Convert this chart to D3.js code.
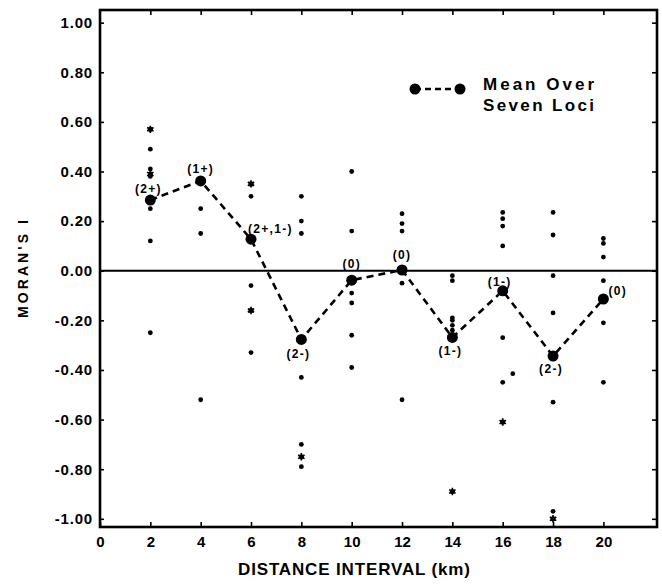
<!DOCTYPE html>
<html>
<head>
<meta charset="utf-8">
<script src="https://cdn.jsdelivr.net/npm/d3@7"></script>
<style>
  html, body { margin: 0; padding: 0; background: #fff; }
  svg { display: block; }
  text { font-family: "Liberation Sans", Arial, Helvetica, sans-serif; fill: #000; }
</style>
</head>
<body>
<svg id="chart" width="662" height="584"></svg>
<script>
// ---------------- data ----------------
const distances = [2, 4, 6, 8, 10, 12, 14, 16, 18, 20];
const meanI = [0.285, 0.362, 0.127, -0.277, -0.038, 0.003, -0.269, -0.081, -0.344, -0.114];
const meanLabels = ["(2+)", "(1+)", "(2+,1-)", "(2-)", "(0)", "(0)", "(1-)", "(1-)", "(2-)", "(0)"];
// individual loci values per distance interval
const lociValues = [
  [0.49, 0.41, 0.38, 0.25, 0.12, -0.25],
  [0.25, 0.15, -0.52],
  [0.30, -0.06, -0.33],
  [0.30, 0.20, 0.15, -0.43, -0.70, -0.79],
  [0.40, 0.16, -0.09, -0.13, -0.26, -0.39],
  [0.23, 0.19, 0.16, -0.05, -0.52],
  [-0.02, -0.04, -0.19, -0.20, -0.22, -0.24],
  [0.235, 0.21, 0.18, 0.10, -0.27, -0.45],
  [0.235, 0.144, -0.02, -0.17, -0.53, -0.97],
  [0.13, 0.11, 0.055, -0.04, -0.21, -0.45]
];
// coincident values (drawn as asterisk blobs)
const starDistances = [2, 2, 6, 6, 8, 14, 16, 18];
const starValues = [0.57, 0.39, 0.35, -0.16, -0.75, -0.89, -0.61, -1.00];
// point displaced sideways for legibility
const shiftedDistances = [16.4];
const shiftedValues = [-0.415];
const xTicks = [0, 2, 4, 6, 8, 10, 12, 14, 16, 18, 20];
const yTicks = [-1.0, -0.8, -0.6, -0.4, -0.2, 0.0, 0.2, 0.4, 0.6, 0.8, 1.0];
const xTitle = "DISTANCE INTERVAL (km)";
const yTitle = "MORAN'S I";
const legendLines = ["Mean Over", "Seven Loci"];

// label placement (dx, dy, anchor) relative to each mean point
const labelOffsets = [
  [-2, -7, "middle"], [0, -8, "middle"], [-3, -6, "start"], [-3, 19, "middle"],
  [0, -12, "middle"], [0, -11, "middle"], [-2, 18, "middle"], [-3, -5, "middle"],
  [-2, 17, "middle"], [5, -4, "start"]
];

// ---------------- chart ----------------
const svg = d3.select("#chart");
const L = 100, R = 657, T = 10, B = 527;
const x = d3.scaleLinear().domain([0, 22.13]).range([L, R]);
const y = d3.scaleLinear().domain([-1.033, 1.051]).range([B, T]);

const fmt = v => (v < 0 ? "-" : "") + Math.abs(v).toFixed(2);

// left axis
const gl = svg.append("g").attr("transform", `translate(${L},0)`)
  .call(d3.axisLeft(y).tickValues(yTicks).tickFormat(fmt).tickSize(-4).tickSizeOuter(0).tickPadding(7));
gl.selectAll("text").style("font-size", "15px").style("font-weight", "bold").style("letter-spacing", "0.8px");
// right axis
svg.append("g").attr("transform", `translate(${R},0)`)
  .call(d3.axisRight(y).tickValues(yTicks).tickFormat("").tickSize(-5).tickSizeOuter(0));
// top axis
svg.append("g").attr("transform", `translate(0,${T})`)
  .call(d3.axisTop(x).tickValues(xTicks.slice(1)).tickFormat("").tickSize(-5).tickSizeOuter(0));
// bottom axis
const gb = svg.append("g").attr("transform", `translate(0,${B})`)
  .call(d3.axisBottom(x).tickValues(xTicks).tickSize(-5).tickSizeOuter(0).tickPadding(9));
gb.selectAll("text").style("font-size", "15px").style("font-weight", "bold");

svg.selectAll(".domain").remove();
svg.selectAll(".tick line").attr("stroke", "#000").attr("stroke-width", 1.6);

// frame
svg.append("rect").attr("x", L).attr("y", T).attr("width", R - L).attr("height", B - T)
  .attr("fill", "none").attr("stroke", "#000").attr("stroke-width", 2.6);
// zero line
svg.append("line").attr("x1", L).attr("x2", R).attr("y1", y(0)).attr("y2", y(0))
  .attr("stroke", "#000").attr("stroke-width", 2);

// loci dots
const dots = [];
distances.forEach((d, i) => lociValues[i].forEach(v => dots.push([d, v])));
shiftedDistances.forEach((d, i) => dots.push([d, shiftedValues[i]]));
svg.append("g").selectAll("circle").data(dots).join("circle")
  .attr("cx", d => x(d[0])).attr("cy", d => y(d[1])).attr("r", 2.4).attr("fill", "#000");

// asterisk blobs (coincident values)
const stars = starDistances.map((d, i) => [d, starValues[i]]);
const sg = svg.append("g").selectAll("g").data(stars).join("g")
  .attr("transform", d => `translate(${x(d[0])},${y(d[1])})`);
sg.append("path").attr("d", d3.symbol().type(d3.symbolAsterisk).size(38))
  .attr("fill", "none").attr("stroke", "#000").attr("stroke-width", 1.6);
sg.append("circle").attr("r", 2.6).attr("fill", "#000");

// mean line
const means = distances.map((d, i) => [d, meanI[i]]);
svg.append("path").datum(means)
  .attr("d", d3.line().x(d => x(d[0])).y(d => y(d[1])))
  .attr("fill", "none").attr("stroke", "#000").attr("stroke-width", 2.6)
  .attr("stroke-dasharray", "7,5");
svg.append("g").selectAll("circle").data(means).join("circle")
  .attr("cx", d => x(d[0])).attr("cy", d => y(d[1])).attr("r", 5.5).attr("fill", "#000");

// mean labels
svg.append("g").selectAll("text").data(means).join("text")
  .attr("x", (d, i) => x(d[0]) + labelOffsets[i][0])
  .attr("y", (d, i) => y(d[1]) + labelOffsets[i][1])
  .attr("text-anchor", (d, i) => labelOffsets[i][2])
  .style("font-size", "12px").style("font-weight", "bold").style("letter-spacing", "1.3px")
  .text((d, i) => meanLabels[i]);

// legend
const lg = svg.append("g");
lg.append("line").attr("x1", 415).attr("x2", 460).attr("y1", 89).attr("y2", 89)
  .attr("stroke", "#000").attr("stroke-width", 2.4).attr("stroke-dasharray", "6,4");
lg.selectAll("circle").data([415, 460]).join("circle")
  .attr("cx", d => d).attr("cy", 89).attr("r", 5.5).attr("fill", "#000");
lg.selectAll("text").data(legendLines).join("text")
  .attr("x", 483).attr("y", (d, i) => 90 + i * 21)
  .attr("textLength", 111).attr("lengthAdjust", "spacing")
  .style("font-size", "17px").style("font-weight", "bold")
  .text(d => d);

// axis titles
svg.append("text").attr("x", 354).attr("y", 575).attr("text-anchor", "middle")
  .attr("textLength", 232).attr("lengthAdjust", "spacing")
  .style("font-size", "17px").style("font-weight", "bold").text(xTitle);
svg.append("text").attr("transform", "translate(28,269) rotate(-90)").attr("text-anchor", "middle")
  .attr("textLength", 98).attr("lengthAdjust", "spacing")
  .style("font-size", "14px").style("font-weight", "bold").text(yTitle);
</script>
</body>
</html>
